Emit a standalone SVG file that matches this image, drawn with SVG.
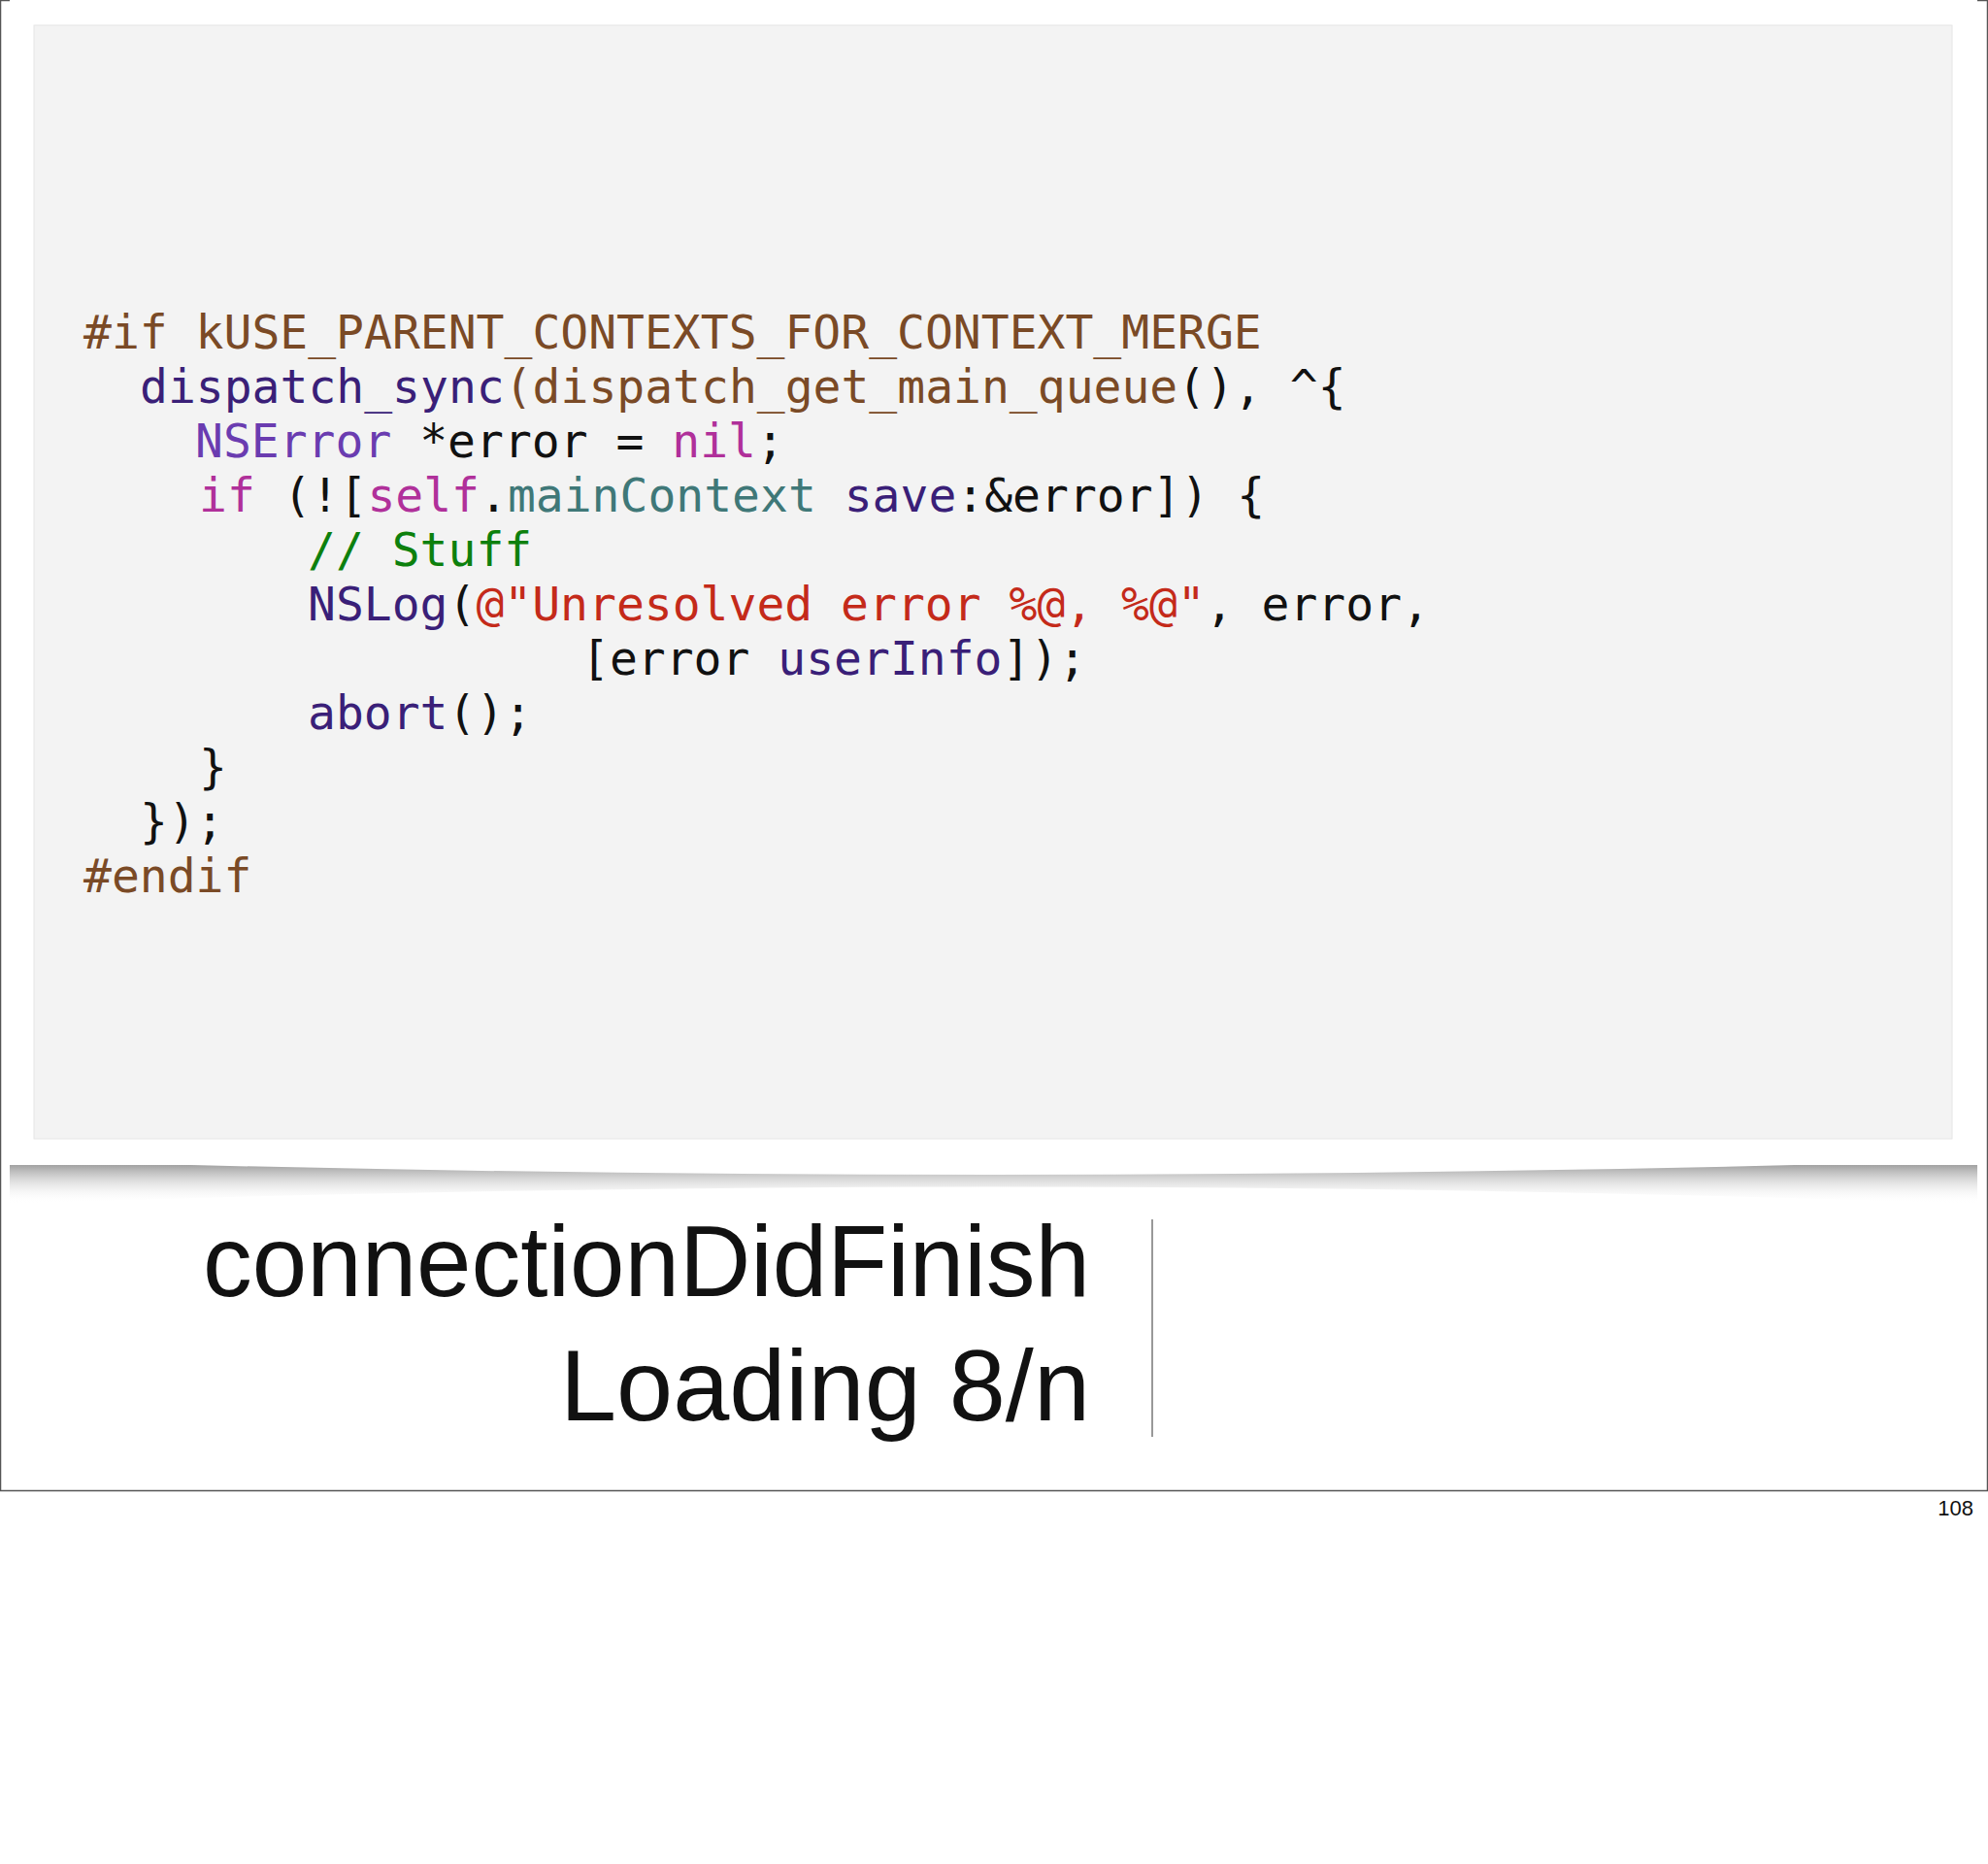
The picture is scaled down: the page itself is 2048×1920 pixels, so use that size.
<svg xmlns="http://www.w3.org/2000/svg" width="2048" height="1920" viewBox="0 0 2048 1920">
<defs>
<style>
.c{font-family:"DejaVu Sans Mono","Liberation Mono",monospace;font-size:48px;fill:#111;white-space:pre}
.pp{fill:#7a4a26}.fn{fill:#3a1f78}.ty{fill:#6a3cb0}.kw{fill:#b0309a}.pr{fill:#3f7878}.cm{fill:#0d800d}.st{fill:#c42a1a}
.t{font-family:"Liberation Sans",Arial,sans-serif;font-size:104px;fill:#111}
</style>
<linearGradient id="sh" x1="0" y1="0" x2="0" y2="1"><stop offset="0" stop-color="#888"/><stop offset="1" stop-color="#fff" stop-opacity="0"/></linearGradient>
</defs>
<rect x="0" y="0" width="2048" height="1920" fill="#fff"/>
<rect x="0.5" y="0.5" width="2047" height="1535" fill="#fff" stroke="#555" stroke-width="1.5"/>
<path d="M10 1195 Q1024 1225 2037 1195 L2037 1240 Q1024 1205 10 1240 Z" fill="url(#sh)"/>
<rect x="10" y="0" width="2027" height="1200" fill="#fff"/>
<rect x="35" y="26" width="1976" height="1147" fill="#f3f3f3" stroke="#e6e6e6"/>
<g id="code" class="c">
<text x="86" y="359" class="pp">#if kUSE_PARENT_CONTEXTS_FOR_CONTEXT_MERGE</text>
<text x="144" y="415"><tspan class="fn">dispatch_sync</tspan><tspan class="pp">(dispatch_get_main_queue</tspan>(), ^{</text>
<text x="201" y="471"><tspan class="ty">NSError</tspan> *error = <tspan class="kw">nil</tspan>;</text>
<text x="205" y="527"><tspan class="kw">if</tspan> (![<tspan class="kw">self</tspan>.<tspan class="pr">mainContext</tspan> <tspan class="fn">save</tspan>:&amp;error]) {</text>
<text x="317" y="583" class="cm">// Stuff</text>
<text x="317" y="639"><tspan class="fn">NSLog</tspan>(<tspan class="st">@"Unresolved error %@, %@"</tspan>, error,</text>
<text x="599" y="695">[error <tspan class="fn">userInfo</tspan>]);</text>
<text x="317" y="751"><tspan class="fn">abort</tspan>();</text>
<text x="205" y="807">}</text>
<text x="144" y="863">});</text>
<text x="86" y="919" class="pp">#endif</text>
</g>
<g id="title">
<text x="1123" y="1335" class="t" text-anchor="end" textLength="914" lengthAdjust="spacingAndGlyphs">connectionDidFinish</text>
<text x="1123" y="1463" class="t" text-anchor="end" textLength="546" lengthAdjust="spacingAndGlyphs">Loading 8/n</text>
<line x1="1187" y1="1256" x2="1187" y2="1480" stroke="#999" stroke-width="2"/>
</g>
<text x="2033" y="1561" font-family="Liberation Sans,Arial,sans-serif" font-size="22" text-anchor="end" fill="#111">108</text>
</svg>
